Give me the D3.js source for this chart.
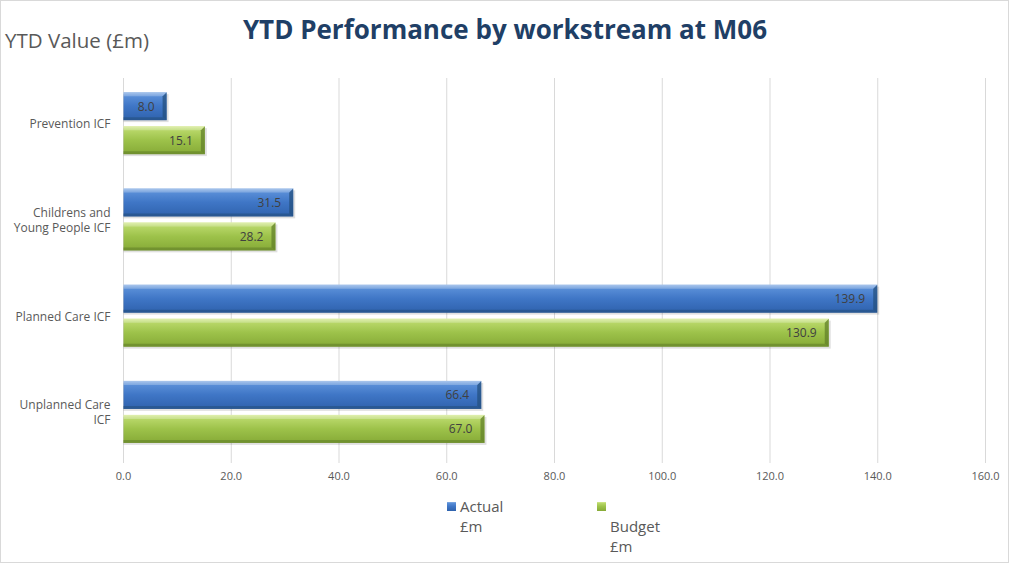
<!DOCTYPE html>
<html>
<head>
<meta charset="utf-8">
<script src="https://cdn.jsdelivr.net/npm/d3@7"></script>
<style>
  body { margin: 0; background: #fff; }
  text { font-family: "Open Sans", "Liberation Sans", sans-serif; }
</style>
</head>
<body>
<div id="chart"></div>
<script>
// chart values
const categories = ["Prevention ICF", "Childrens and\nYoung People ICF", "Planned Care ICF", "Unplanned Care\nICF"];
const actual = [8.0, 31.5, 139.9, 66.4];
const budget = [15.1, 28.2, 130.9, 67.0];
const seriesNames = ["Actual\n£m", "\nBudget\n£m"];
const xTicks = [0, 20, 40, 60, 80, 100, 120, 140, 160];

const W = 1009, H = 563;
const margin = { top: 78, left: 123.5 };
const innerW = 985.5 - margin.left;
const innerH = 463 - margin.top;

const svg = d3.select("#chart").append("svg")
  .attr("width", W).attr("height", H);

// frame
svg.append("rect").attr("x", 0.5).attr("y", 0.5)
  .attr("width", W - 1).attr("height", H - 1)
  .attr("fill", "#fff").attr("stroke", "#d9d9d9");

const defs = svg.append("defs");
function grad(id, stops) {
  const g = defs.append("linearGradient").attr("id", id)
    .attr("x1", 0).attr("y1", 0).attr("x2", 0).attr("y2", 1);
  stops.forEach(s => g.append("stop").attr("offset", s[0]).attr("stop-color", s[1]));
}
grad("gBlue", [[0, "#8db3e6"], [0.12, "#5a8fd8"], [0.5, "#3f76c6"], [1, "#2f62ad"]]);
grad("gGreen", [[0, "#d7eb95"], [0.12, "#b9d86a"], [0.5, "#9dc24a"], [1, "#86aa37"]]);

const x = d3.scaleLinear().domain([0, 160]).range([0, innerW]);
const y = d3.scaleBand().domain(d3.range(categories.length)).range([0, innerH]);

const g = svg.append("g").attr("transform", `translate(${margin.left},${margin.top})`);

// gridlines
g.selectAll("line.grid").data(xTicks).enter().append("line")
  .attr("x1", d => x(d)).attr("x2", d => x(d))
  .attr("y1", 0).attr("y2", innerH)
  .attr("stroke", "#d9d9d9").attr("stroke-width", 1);

// tick labels
g.selectAll("text.tick").data(xTicks).enter().append("text")
  .attr("x", d => x(d)).attr("y", innerH + 17)
  .attr("text-anchor", "middle")
  .attr("font-size", 11).attr("fill", "#595959")
  .text(d => d3.format(".1f")(d));

// category labels
categories.forEach((c, i) => {
  const lines = c.split("\n");
  const cy = y(i) + y.bandwidth() / 2 - 2 - (lines.length - 1) * 7.5;
  const t = g.append("text").attr("text-anchor", "end")
    .attr("font-size", 12).attr("fill", "#595959");
  lines.forEach((l, k) => t.append("tspan").attr("x", -13).attr("y", cy + k * 15 + 4).text(l));
});

const barH = 28, gap = 6;
const off = (y.bandwidth() - (2 * barH + gap)) / 2 - 3;
const series = [
  { vals: actual, fill: "url(#gBlue)", dark: "#24507f", dy: off },
  { vals: budget, fill: "url(#gGreen)", dark: "#62802a", dy: off + barH + gap }
];

series.forEach(s => {
  const grp = g.selectAll(null).data(s.vals).enter().append("g");
  // shadow
  grp.append("rect")
    .attr("x", 0).attr("y", (d, i) => y(i) + s.dy + 2)
    .attr("width", d => x(d) + 2).attr("height", barH)
    .attr("fill", "#000").attr("opacity", 0.12);
  grp.append("rect")
    .attr("x", 0).attr("y", (d, i) => y(i) + s.dy)
    .attr("width", d => x(d)).attr("height", barH)
    .attr("fill", s.fill);
  // bevel on right end
  grp.append("path")
    .attr("d", (d, i) => {
      const x1 = x(d), y0 = y(i) + s.dy;
      return `M${x1 - 4},${y0 + 4}L${x1},${y0}L${x1},${y0 + barH}L${x1 - 4},${y0 + barH - 3}Z`;
    })
    .attr("fill", s.dark).attr("opacity", 0.75);
  // bottom edge
  grp.append("path")
    .attr("d", (d, i) => {
      const x1 = x(d), y0 = y(i) + s.dy;
      return `M0,${y0 + barH - 3}L${x1 - 4},${y0 + barH - 3}L${x1},${y0 + barH}L0,${y0 + barH}Z`;
    })
    .attr("fill", s.dark).attr("opacity", 0.6);
  // top highlight
  grp.append("path")
    .attr("d", (d, i) => {
      const x1 = x(d), y0 = y(i) + s.dy;
      return `M0,${y0}L${x1},${y0}L${x1 - 4},${y0 + 4}L0,${y0 + 4}Z`;
    })
    .attr("fill", "#fff").attr("opacity", 0.25);
  // value labels
  grp.append("text")
    .attr("x", d => x(d) - 12).attr("y", (d, i) => y(i) + s.dy + barH / 2 + 4.5)
    .attr("text-anchor", "end").attr("font-size", 12).attr("fill", "#404040")
    .text(d => d3.format(".1f")(d));
});

// titles
svg.append("text").attr("x", 505).attr("y", 39).attr("text-anchor", "middle")
  .attr("font-size", 26).attr("font-weight", "bold").attr("fill", "#1f3f66")
  .text("YTD Performance by workstream at M06");
svg.append("text").attr("x", 5).attr("y", 48)
  .attr("font-size", 20.5).attr("fill", "#595959")
  .text("YTD Value (£m)");

// legend
const legX = [447, 597];
const legFill = ["url(#gBlue)", "url(#gGreen)"];
seriesNames.forEach((n, i) => {
  const lg = svg.append("g");
  lg.append("rect").attr("x", legX[i]).attr("y", 502).attr("width", 9).attr("height", 9)
    .attr("fill", legFill[i]);
  const t = lg.append("text").attr("font-size", 15).attr("fill", "#595959");
  n.split("\n").forEach((l, k) => t.append("tspan").attr("x", legX[i] + 13).attr("y", 512 + k * 20).text(l));
});
</script>
</body>
</html>
